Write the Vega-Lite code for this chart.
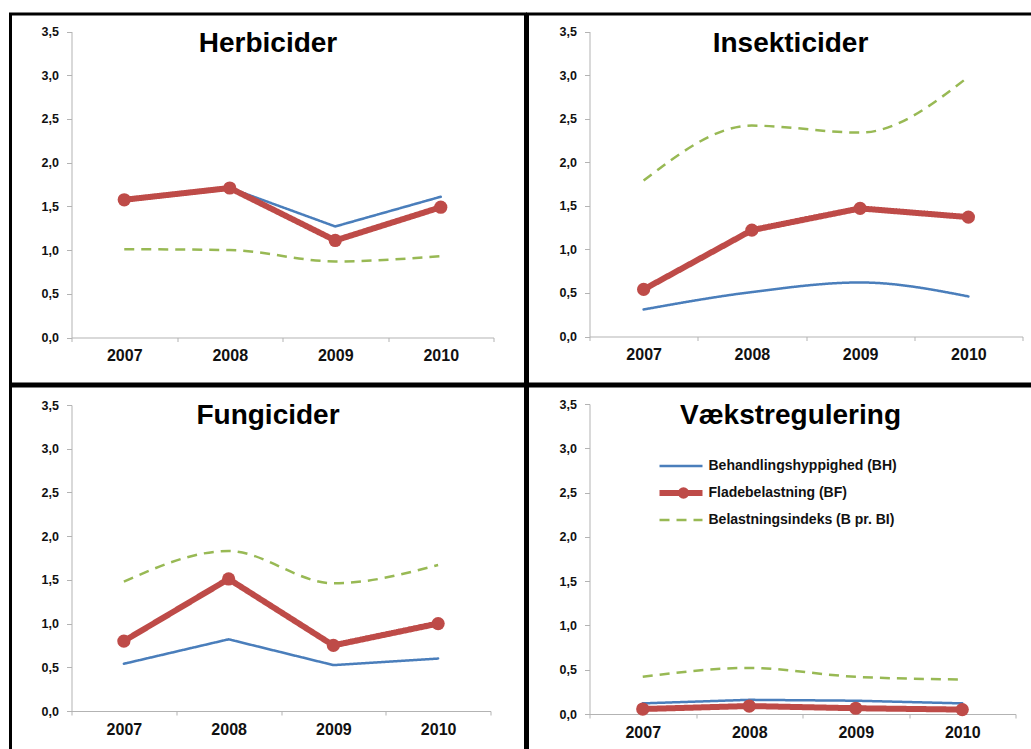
{
  "$schema": "https://vega.github.io/schema/vega-lite/v6.json",
  "padding": {"left": 8.5, "top": 12, "right": 0, "bottom": 0},
  "background": "white",
  "config": {
    "view": {"stroke": "black", "strokeWidth": 3},
    "font": "Liberation Sans",
    "axis": {"grid": false, "domainColor": "#b3b3b3", "tickColor": "#b3b3b3", "labelColor": "#111", "labelFont": "Liberation Sans", "labelFontWeight": "bold", "title": null},
    "title": {"font": "Liberation Sans", "fontSize": 28, "fontWeight": "bold", "color": "black", "anchor": "middle", "frame": "group", "baseline": "alphabetic"}
  },
  "datasets": {
    "d": [
      {"p": "Herbicider", "year": "2007", "s": "Behandlingshyppighed (BH)", "v": 1.58},
      {"p": "Herbicider", "year": "2008", "s": "Behandlingshyppighed (BH)", "v": 1.71},
      {"p": "Herbicider", "year": "2009", "s": "Behandlingshyppighed (BH)", "v": 1.27},
      {"p": "Herbicider", "year": "2010", "s": "Behandlingshyppighed (BH)", "v": 1.61},
      {"p": "Herbicider", "year": "2007", "s": "Fladebelastning (BF)", "v": 1.575},
      {"p": "Herbicider", "year": "2008", "s": "Fladebelastning (BF)", "v": 1.71},
      {"p": "Herbicider", "year": "2009", "s": "Fladebelastning (BF)", "v": 1.11},
      {"p": "Herbicider", "year": "2010", "s": "Fladebelastning (BF)", "v": 1.49},
      {"p": "Herbicider", "year": "2007", "s": "Belastningsindeks (B pr. BI)", "v": 1.01},
      {"p": "Herbicider", "year": "2008", "s": "Belastningsindeks (B pr. BI)", "v": 1.0},
      {"p": "Herbicider", "year": "2009", "s": "Belastningsindeks (B pr. BI)", "v": 0.87},
      {"p": "Herbicider", "year": "2010", "s": "Belastningsindeks (B pr. BI)", "v": 0.93},
      {"p": "Insekticider", "year": "2007", "s": "Behandlingshyppighed (BH)", "v": 0.31},
      {"p": "Insekticider", "year": "2008", "s": "Behandlingshyppighed (BH)", "v": 0.51},
      {"p": "Insekticider", "year": "2009", "s": "Behandlingshyppighed (BH)", "v": 0.62},
      {"p": "Insekticider", "year": "2010", "s": "Behandlingshyppighed (BH)", "v": 0.46},
      {"p": "Insekticider", "year": "2007", "s": "Fladebelastning (BF)", "v": 0.54},
      {"p": "Insekticider", "year": "2008", "s": "Fladebelastning (BF)", "v": 1.22},
      {"p": "Insekticider", "year": "2009", "s": "Fladebelastning (BF)", "v": 1.47},
      {"p": "Insekticider", "year": "2010", "s": "Fladebelastning (BF)", "v": 1.37},
      {"p": "Insekticider", "year": "2007", "s": "Belastningsindeks (B pr. BI)", "v": 1.79},
      {"p": "Insekticider", "year": "2008", "s": "Belastningsindeks (B pr. BI)", "v": 2.42},
      {"p": "Insekticider", "year": "2009", "s": "Belastningsindeks (B pr. BI)", "v": 2.34},
      {"p": "Insekticider", "year": "2010", "s": "Belastningsindeks (B pr. BI)", "v": 2.98},
      {"p": "Fungicider", "year": "2007", "s": "Behandlingshyppighed (BH)", "v": 0.54},
      {"p": "Fungicider", "year": "2008", "s": "Behandlingshyppighed (BH)", "v": 0.82},
      {"p": "Fungicider", "year": "2009", "s": "Behandlingshyppighed (BH)", "v": 0.525},
      {"p": "Fungicider", "year": "2010", "s": "Behandlingshyppighed (BH)", "v": 0.6},
      {"p": "Fungicider", "year": "2007", "s": "Fladebelastning (BF)", "v": 0.8},
      {"p": "Fungicider", "year": "2008", "s": "Fladebelastning (BF)", "v": 1.51},
      {"p": "Fungicider", "year": "2009", "s": "Fladebelastning (BF)", "v": 0.75},
      {"p": "Fungicider", "year": "2010", "s": "Fladebelastning (BF)", "v": 1.0},
      {"p": "Fungicider", "year": "2007", "s": "Belastningsindeks (B pr. BI)", "v": 1.48},
      {"p": "Fungicider", "year": "2008", "s": "Belastningsindeks (B pr. BI)", "v": 1.83},
      {"p": "Fungicider", "year": "2009", "s": "Belastningsindeks (B pr. BI)", "v": 1.46},
      {"p": "Fungicider", "year": "2010", "s": "Belastningsindeks (B pr. BI)", "v": 1.67},
      {"p": "Vækstregulering", "year": "2007", "s": "Behandlingshyppighed (BH)", "v": 0.12},
      {"p": "Vækstregulering", "year": "2008", "s": "Behandlingshyppighed (BH)", "v": 0.16},
      {"p": "Vækstregulering", "year": "2009", "s": "Behandlingshyppighed (BH)", "v": 0.15},
      {"p": "Vækstregulering", "year": "2010", "s": "Behandlingshyppighed (BH)", "v": 0.12},
      {"p": "Vækstregulering", "year": "2007", "s": "Fladebelastning (BF)", "v": 0.056},
      {"p": "Vækstregulering", "year": "2008", "s": "Fladebelastning (BF)", "v": 0.09},
      {"p": "Vækstregulering", "year": "2009", "s": "Fladebelastning (BF)", "v": 0.065},
      {"p": "Vækstregulering", "year": "2010", "s": "Fladebelastning (BF)", "v": 0.05},
      {"p": "Vækstregulering", "year": "2007", "s": "Belastningsindeks (B pr. BI)", "v": 0.42},
      {"p": "Vækstregulering", "year": "2008", "s": "Belastningsindeks (B pr. BI)", "v": 0.52},
      {"p": "Vækstregulering", "year": "2009", "s": "Belastningsindeks (B pr. BI)", "v": 0.42},
      {"p": "Vækstregulering", "year": "2010", "s": "Belastningsindeks (B pr. BI)", "v": 0.39}
    ]
  },
  "spacing": -3,
  "resolve": {"scale": {"color": "independent", "fill": "independent", "strokeWidth": "independent", "strokeDash": "independent", "x": "independent", "y": "independent"}},
  "vconcat": [
    {
      "hconcat": [
        {
          "width": 515, "height": 370,
          "title": {"text": "Herbicider", "offset": -44},
          "data": {"name": "d"},
          "transform": [{"filter": "datum.p == 'Herbicider'"}],
          "encoding": {
            "x": {"field": "year", "type": "ordinal", "scale": {"type": "band", "paddingInner": 0, "paddingOuter": 0, "range": [61, 483]}, "axis": {"labelAngle": 0, "tickBand": "extent", "tickSize": 4, "labelFontSize": 16, "labelPadding": 6, "offset": -46.5}},
            "y": {"field": "v", "type": "quantitative", "scale": {"domain": [0, 3.5], "nice": false, "range": [323.5, 17.5]}, "axis": {"values": [0, 0.5, 1, 1.5, 2, 2.5, 3, 3.5], "labelExpr": "replace(format(datum.value, '.1f'), '.', ',')", "tickSize": 5, "labelPadding": 8, "labelFontSize": 12.5, "offset": -61}}
          },
          "layer": [
            {"transform": [{"filter": "datum.s == 'Behandlingshyppighed (BH)'"}], "mark": {"type": "line", "strokeCap": "round"},
             "encoding": {
               "color": {"field": "s", "type": "nominal", "scale": {"domain": ["Behandlingshyppighed (BH)", "Fladebelastning (BF)", "Belastningsindeks (B pr. BI)"], "range": ["#4A7EBB", "#BE4B48", "#98B954"]}, "legend": null},
               "strokeWidth": {"field": "s", "type": "nominal", "scale": {"type": "ordinal", "domain": ["Behandlingshyppighed (BH)", "Fladebelastning (BF)", "Belastningsindeks (B pr. BI)"], "range": [2.5, 6, 2.5]}, "legend": null},
               "strokeDash": {"field": "s", "type": "nominal", "scale": {"domain": ["Behandlingshyppighed (BH)", "Fladebelastning (BF)", "Belastningsindeks (B pr. BI)"], "range": [[1, 0], [1, 0], [10, 7]]}, "legend": null}
             }},
            {"transform": [{"filter": "datum.s == 'Fladebelastning (BF)'"}], "mark": {"type": "line", "strokeCap": "round"},
             "encoding": {
               "color": {"field": "s", "type": "nominal", "scale": {"domain": ["Behandlingshyppighed (BH)", "Fladebelastning (BF)", "Belastningsindeks (B pr. BI)"], "range": ["#4A7EBB", "#BE4B48", "#98B954"]}, "legend": null},
               "strokeWidth": {"field": "s", "type": "nominal", "scale": {"type": "ordinal", "domain": ["Behandlingshyppighed (BH)", "Fladebelastning (BF)", "Belastningsindeks (B pr. BI)"], "range": [2.5, 6, 2.5]}, "legend": null},
               "strokeDash": {"field": "s", "type": "nominal", "scale": {"domain": ["Behandlingshyppighed (BH)", "Fladebelastning (BF)", "Belastningsindeks (B pr. BI)"], "range": [[1, 0], [1, 0], [10, 7]]}, "legend": null}
             }},
            {"transform": [{"filter": "datum.s == 'Fladebelastning (BF)'"}], "mark": {"type": "point", "filled": true, "opacity": 1, "size": 175, "color": "#BE4B48"}},
            {"transform": [{"filter": "datum.s == 'Belastningsindeks (B pr. BI)'"}], "mark": {"type": "line", "interpolate": "monotone"},
             "encoding": {
               "color": {"field": "s", "type": "nominal", "scale": {"domain": ["Behandlingshyppighed (BH)", "Fladebelastning (BF)", "Belastningsindeks (B pr. BI)"], "range": ["#4A7EBB", "#BE4B48", "#98B954"]}, "legend": null},
               "strokeWidth": {"field": "s", "type": "nominal", "scale": {"type": "ordinal", "domain": ["Behandlingshyppighed (BH)", "Fladebelastning (BF)", "Belastningsindeks (B pr. BI)"], "range": [2.5, 6, 2.5]}, "legend": null},
               "strokeDash": {"field": "s", "type": "nominal", "scale": {"domain": ["Behandlingshyppighed (BH)", "Fladebelastning (BF)", "Belastningsindeks (B pr. BI)"], "range": [[1, 0], [1, 0], [10, 7]]}, "legend": null}
             }}
          ]
        },
        {
          "width": 526, "height": 370,
          "title": {"text": "Insekticider", "offset": -44},
          "data": {"name": "d"},
          "transform": [{"filter": "datum.p == 'Insekticider'"}],
          "encoding": {
            "x": {"field": "year", "type": "ordinal", "scale": {"type": "band", "paddingInner": 0, "paddingOuter": 0, "range": [62, 495]}, "axis": {"labelAngle": 0, "tickBand": "extent", "tickSize": 4, "labelFontSize": 16, "labelPadding": 6, "offset": -47.5}},
            "y": {"field": "v", "type": "quantitative", "scale": {"domain": [0, 3.5], "nice": false, "range": [322.5, 17.5]}, "axis": {"values": [0, 0.5, 1, 1.5, 2, 2.5, 3, 3.5], "labelExpr": "replace(format(datum.value, '.1f'), '.', ',')", "tickSize": 5, "labelPadding": 8, "labelFontSize": 12.5, "offset": -62}}
          },
          "layer": [
            {"transform": [{"filter": "datum.s == 'Behandlingshyppighed (BH)'"}], "mark": {"type": "line", "strokeCap": "round", "interpolate": "monotone"},
             "encoding": {
               "color": {"field": "s", "type": "nominal", "scale": {"domain": ["Behandlingshyppighed (BH)", "Fladebelastning (BF)", "Belastningsindeks (B pr. BI)"], "range": ["#4A7EBB", "#BE4B48", "#98B954"]}, "legend": null},
               "strokeWidth": {"field": "s", "type": "nominal", "scale": {"type": "ordinal", "domain": ["Behandlingshyppighed (BH)", "Fladebelastning (BF)", "Belastningsindeks (B pr. BI)"], "range": [2.5, 6, 2.5]}, "legend": null},
               "strokeDash": {"field": "s", "type": "nominal", "scale": {"domain": ["Behandlingshyppighed (BH)", "Fladebelastning (BF)", "Belastningsindeks (B pr. BI)"], "range": [[1, 0], [1, 0], [10, 7]]}, "legend": null}
             }},
            {"transform": [{"filter": "datum.s == 'Fladebelastning (BF)'"}], "mark": {"type": "line", "strokeCap": "round"},
             "encoding": {
               "color": {"field": "s", "type": "nominal", "scale": {"domain": ["Behandlingshyppighed (BH)", "Fladebelastning (BF)", "Belastningsindeks (B pr. BI)"], "range": ["#4A7EBB", "#BE4B48", "#98B954"]}, "legend": null},
               "strokeWidth": {"field": "s", "type": "nominal", "scale": {"type": "ordinal", "domain": ["Behandlingshyppighed (BH)", "Fladebelastning (BF)", "Belastningsindeks (B pr. BI)"], "range": [2.5, 6, 2.5]}, "legend": null},
               "strokeDash": {"field": "s", "type": "nominal", "scale": {"domain": ["Behandlingshyppighed (BH)", "Fladebelastning (BF)", "Belastningsindeks (B pr. BI)"], "range": [[1, 0], [1, 0], [10, 7]]}, "legend": null}
             }},
            {"transform": [{"filter": "datum.s == 'Fladebelastning (BF)'"}], "mark": {"type": "point", "filled": true, "opacity": 1, "size": 175, "color": "#BE4B48"}},
            {"transform": [{"filter": "datum.s == 'Belastningsindeks (B pr. BI)'"}], "mark": {"type": "line", "interpolate": "monotone"},
             "encoding": {
               "color": {"field": "s", "type": "nominal", "scale": {"domain": ["Behandlingshyppighed (BH)", "Fladebelastning (BF)", "Belastningsindeks (B pr. BI)"], "range": ["#4A7EBB", "#BE4B48", "#98B954"]}, "legend": null},
               "strokeWidth": {"field": "s", "type": "nominal", "scale": {"type": "ordinal", "domain": ["Behandlingshyppighed (BH)", "Fladebelastning (BF)", "Belastningsindeks (B pr. BI)"], "range": [2.5, 6, 2.5]}, "legend": null},
               "strokeDash": {"field": "s", "type": "nominal", "scale": {"domain": ["Behandlingshyppighed (BH)", "Fladebelastning (BF)", "Belastningsindeks (B pr. BI)"], "range": [[1, 0], [1, 0], [10, 7]]}, "legend": null}
             }}
          ]
        }
      ],
      "spacing": -3,
      "resolve": {"scale": {"color": "independent", "fill": "independent", "strokeWidth": "independent", "strokeDash": "independent", "x": "independent", "y": "independent"}}
    },
    {
      "hconcat": [
        {
          "width": 515, "height": 370,
          "title": {"text": "Fungicider", "offset": -44},
          "data": {"name": "d"},
          "transform": [{"filter": "datum.p == 'Fungicider'"}],
          "encoding": {
            "x": {"field": "year", "type": "ordinal", "scale": {"type": "band", "paddingInner": 0, "paddingOuter": 0, "range": [61, 480]}, "axis": {"labelAngle": 0, "tickBand": "extent", "tickSize": 4, "labelFontSize": 16, "labelPadding": 6, "offset": -45}},
            "y": {"field": "v", "type": "quantitative", "scale": {"domain": [0, 3.5], "nice": false, "range": [325, 19]}, "axis": {"values": [0, 0.5, 1, 1.5, 2, 2.5, 3, 3.5], "labelExpr": "replace(format(datum.value, '.1f'), '.', ',')", "tickSize": 5, "labelPadding": 8, "labelFontSize": 12.5, "offset": -61}}
          },
          "layer": [
            {"transform": [{"filter": "datum.s == 'Behandlingshyppighed (BH)'"}], "mark": {"type": "line", "strokeCap": "round"},
             "encoding": {
               "color": {"field": "s", "type": "nominal", "scale": {"domain": ["Behandlingshyppighed (BH)", "Fladebelastning (BF)", "Belastningsindeks (B pr. BI)"], "range": ["#4A7EBB", "#BE4B48", "#98B954"]}, "legend": null},
               "strokeWidth": {"field": "s", "type": "nominal", "scale": {"type": "ordinal", "domain": ["Behandlingshyppighed (BH)", "Fladebelastning (BF)", "Belastningsindeks (B pr. BI)"], "range": [2.5, 6, 2.5]}, "legend": null},
               "strokeDash": {"field": "s", "type": "nominal", "scale": {"domain": ["Behandlingshyppighed (BH)", "Fladebelastning (BF)", "Belastningsindeks (B pr. BI)"], "range": [[1, 0], [1, 0], [10, 7]]}, "legend": null}
             }},
            {"transform": [{"filter": "datum.s == 'Fladebelastning (BF)'"}], "mark": {"type": "line", "strokeCap": "round"},
             "encoding": {
               "color": {"field": "s", "type": "nominal", "scale": {"domain": ["Behandlingshyppighed (BH)", "Fladebelastning (BF)", "Belastningsindeks (B pr. BI)"], "range": ["#4A7EBB", "#BE4B48", "#98B954"]}, "legend": null},
               "strokeWidth": {"field": "s", "type": "nominal", "scale": {"type": "ordinal", "domain": ["Behandlingshyppighed (BH)", "Fladebelastning (BF)", "Belastningsindeks (B pr. BI)"], "range": [2.5, 6, 2.5]}, "legend": null},
               "strokeDash": {"field": "s", "type": "nominal", "scale": {"domain": ["Behandlingshyppighed (BH)", "Fladebelastning (BF)", "Belastningsindeks (B pr. BI)"], "range": [[1, 0], [1, 0], [10, 7]]}, "legend": null}
             }},
            {"transform": [{"filter": "datum.s == 'Fladebelastning (BF)'"}], "mark": {"type": "point", "filled": true, "opacity": 1, "size": 175, "color": "#BE4B48"}},
            {"transform": [{"filter": "datum.s == 'Belastningsindeks (B pr. BI)'"}], "mark": {"type": "line", "interpolate": "monotone"},
             "encoding": {
               "color": {"field": "s", "type": "nominal", "scale": {"domain": ["Behandlingshyppighed (BH)", "Fladebelastning (BF)", "Belastningsindeks (B pr. BI)"], "range": ["#4A7EBB", "#BE4B48", "#98B954"]}, "legend": null},
               "strokeWidth": {"field": "s", "type": "nominal", "scale": {"type": "ordinal", "domain": ["Behandlingshyppighed (BH)", "Fladebelastning (BF)", "Belastningsindeks (B pr. BI)"], "range": [2.5, 6, 2.5]}, "legend": null},
               "strokeDash": {"field": "s", "type": "nominal", "scale": {"domain": ["Behandlingshyppighed (BH)", "Fladebelastning (BF)", "Belastningsindeks (B pr. BI)"], "range": [[1, 0], [1, 0], [10, 7]]}, "legend": null}
             }}
          ]
        },
        {
          "width": 526, "height": 370,
          "title": {"text": "Vækstregulering", "offset": -44},
          "data": {"name": "d"},
          "transform": [{"filter": "datum.p == 'Vækstregulering'"}],
          "encoding": {
            "x": {"field": "year", "type": "ordinal", "scale": {"type": "band", "paddingInner": 0, "paddingOuter": 0, "range": [62, 488]}, "axis": {"labelAngle": 0, "tickBand": "extent", "tickSize": 4, "labelFontSize": 16, "labelPadding": 6, "offset": -42}},
            "y": {"field": "v", "type": "quantitative", "scale": {"domain": [0, 3.5], "nice": false, "range": [328, 18]}, "axis": {"values": [0, 0.5, 1, 1.5, 2, 2.5, 3, 3.5], "labelExpr": "replace(format(datum.value, '.1f'), '.', ',')", "tickSize": 5, "labelPadding": 8, "labelFontSize": 12.5, "offset": -62}}
          },
          "layer": [
            {"transform": [{"filter": "datum.s == 'Behandlingshyppighed (BH)'"}], "mark": {"type": "line", "strokeCap": "round"},
             "encoding": {
               "color": {"field": "s", "type": "nominal", "title": null, "scale": {"domain": ["Behandlingshyppighed (BH)", "Fladebelastning (BF)", "Belastningsindeks (B pr. BI)"], "range": ["#4A7EBB", "#BE4B48", "#98B954"]},
                 "legend": {"orient": "none", "legendX": 129, "legendY": 66.5, "title": null, "padding": 0, "symbolType": "stroke", "symbolSize": 1849, "clipHeight": 27, "rowPadding": 0, "labelOffset": 3, "labelFont": "Liberation Sans", "labelFontSize": 14, "labelFontWeight": "bold", "labelColor": "#111", "labelLimit": 400,
                   "encode": {"symbols": {"update": {"shape": {"value": "M-1,0H1"}}}}}},
               "strokeWidth": {"field": "s", "type": "nominal", "title": null, "scale": {"type": "ordinal", "domain": ["Behandlingshyppighed (BH)", "Fladebelastning (BF)", "Belastningsindeks (B pr. BI)"], "range": [2.5, 6, 2.5]}},
               "strokeDash": {"field": "s", "type": "nominal", "title": null, "scale": {"domain": ["Behandlingshyppighed (BH)", "Fladebelastning (BF)", "Belastningsindeks (B pr. BI)"], "range": [[1, 0], [1, 0], [10, 7]]}}
             }},
            {"transform": [{"filter": "datum.s == 'Fladebelastning (BF)'"}], "mark": {"type": "line", "strokeCap": "round"},
             "encoding": {
               "color": {"field": "s", "type": "nominal", "title": null, "scale": {"domain": ["Behandlingshyppighed (BH)", "Fladebelastning (BF)", "Belastningsindeks (B pr. BI)"], "range": ["#4A7EBB", "#BE4B48", "#98B954"]}},
               "strokeWidth": {"field": "s", "type": "nominal", "title": null, "scale": {"type": "ordinal", "domain": ["Behandlingshyppighed (BH)", "Fladebelastning (BF)", "Belastningsindeks (B pr. BI)"], "range": [2.5, 6, 2.5]}},
               "strokeDash": {"field": "s", "type": "nominal", "title": null, "scale": {"domain": ["Behandlingshyppighed (BH)", "Fladebelastning (BF)", "Belastningsindeks (B pr. BI)"], "range": [[1, 0], [1, 0], [10, 7]]}}
             }},
            {"transform": [{"filter": "datum.s == 'Fladebelastning (BF)'"}], "mark": {"type": "point", "filled": true, "opacity": 1, "size": 175},
             "encoding": {
               "fill": {"field": "s", "type": "nominal", "title": null, "scale": {"domain": ["Fladebelastning (BF)"], "range": ["#BE4B48"]},
                 "legend": {"orient": "none", "legendX": 149, "legendY": 93.5, "title": null, "padding": 0, "symbolType": "circle", "symbolSize": 130, "symbolStrokeWidth": 0, "symbolOpacity": 1, "clipHeight": 27, "labelExpr": "''", "labelFontSize": 14}}
             }},
            {"transform": [{"filter": "datum.s == 'Belastningsindeks (B pr. BI)'"}], "mark": {"type": "line", "interpolate": "monotone"},
             "encoding": {
               "color": {"field": "s", "type": "nominal", "title": null, "scale": {"domain": ["Behandlingshyppighed (BH)", "Fladebelastning (BF)", "Belastningsindeks (B pr. BI)"], "range": ["#4A7EBB", "#BE4B48", "#98B954"]}},
               "strokeWidth": {"field": "s", "type": "nominal", "title": null, "scale": {"type": "ordinal", "domain": ["Behandlingshyppighed (BH)", "Fladebelastning (BF)", "Belastningsindeks (B pr. BI)"], "range": [2.5, 6, 2.5]}},
               "strokeDash": {"field": "s", "type": "nominal", "title": null, "scale": {"domain": ["Behandlingshyppighed (BH)", "Fladebelastning (BF)", "Belastningsindeks (B pr. BI)"], "range": [[1, 0], [1, 0], [10, 7]]}}
             }}
          ]
        }
      ],
      "spacing": -3,
      "resolve": {"scale": {"color": "independent", "fill": "independent", "strokeWidth": "independent", "strokeDash": "independent", "x": "independent", "y": "independent"}}
    }
  ]
}
